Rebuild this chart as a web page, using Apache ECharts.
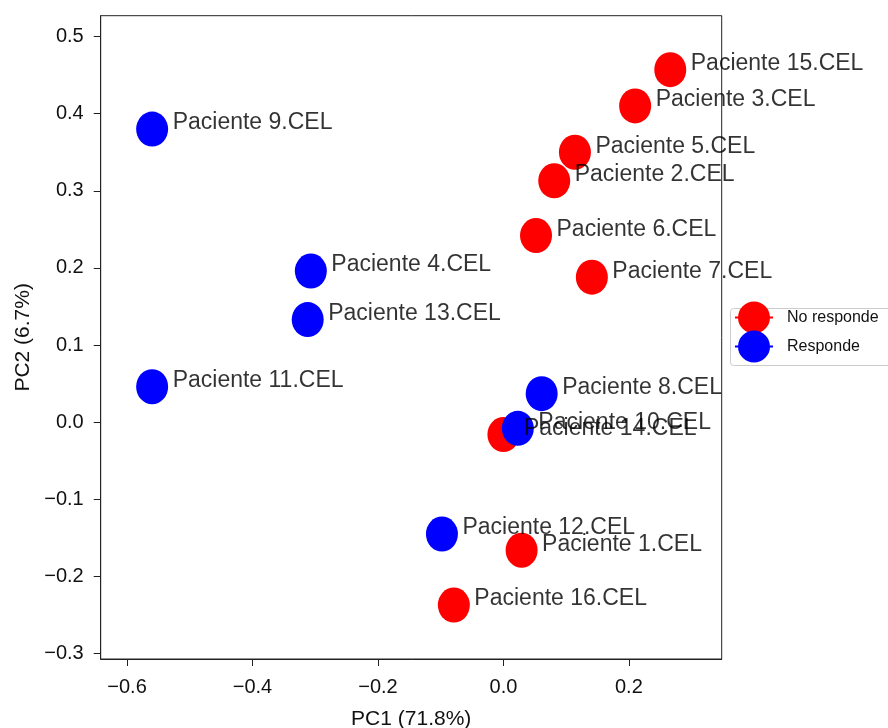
<!DOCTYPE html>
<html>
<head>
<meta charset="utf-8">
<script src="https://cdn.jsdelivr.net/npm/echarts@6/dist/echarts.min.js"></script>
<style>html,body{margin:0;padding:0;background:#fff}#c{width:888px;height:728px}</style>
</head>
<body>
<div id="c"></div>
<script>
const noRespondeNames = ['Paciente 15.CEL','Paciente 3.CEL','Paciente 5.CEL','Paciente 2.CEL','Paciente 6.CEL','Paciente 7.CEL','Paciente 14.CEL','Paciente 1.CEL','Paciente 16.CEL'];
const noRespondePC1 = [0.266, 0.210, 0.114, 0.081, 0.052, 0.141, 0.000, 0.029, -0.079];
const noRespondePC2 = [0.457, 0.410, 0.350, 0.313, 0.242, 0.188, -0.016, -0.166, -0.237];

const respondeNames = ['Paciente 9.CEL','Paciente 4.CEL','Paciente 13.CEL','Paciente 11.CEL','Paciente 8.CEL','Paciente 10.CEL','Paciente 12.CEL'];
const respondePC1 = [-0.560, -0.307, -0.312, -0.560, 0.061, 0.023, -0.098];
const respondePC2 = [0.380, 0.196, 0.133, 0.046, 0.037, -0.008, -0.145];

const xTicks = [-0.6, -0.4, -0.2, 0.0, 0.2];
const yTicks = [-0.3, -0.2, -0.1, 0.0, 0.1, 0.2, 0.3, 0.4, 0.5];
const xName = 'PC1 (71.8%)';
const yName = 'PC2 (6.7%)';
const seriesNames = ['No responde', 'Responde'];

const FONT = "'Liberation Sans', Arial, sans-serif";
const fmt = v => (v < 0 ? '\u2212' : '') + Math.abs(v).toFixed(1);
const toPts = (xs, ys, names) => xs.map((x, i) => ({ value: [x, ys[i]], name: names[i] }));

const redPts = toPts(noRespondePC1, noRespondePC2, noRespondeNames);
const bluePts = toPts(respondePC1, respondePC2, respondeNames);

const iconPath = 'path://M0 15.5 H38 V17.5 H0 Z M3 16.5 A16 16 0 1 1 35 16.5 A16 16 0 1 1 3 16.5 Z';

const chart = echarts.init(document.getElementById('c'), null, { renderer: 'canvas' });
chart.setOption({
  animation: false,
  backgroundColor: '#fff',
  textStyle: { fontFamily: FONT },
  grid: { left: 100.7, right: 166.3, top: 15.7, bottom: 69, show: true, borderColor: '#222', borderWidth: 1, containLabel: false, outerBoundsMode: 'none' },
  xAxis: {
    type: 'value', min: -0.642, max: 0.348,
    name: xName, nameLocation: 'middle', nameGap: 50,
    nameTextStyle: { fontSize: 21, color: '#111', fontFamily: FONT },
    axisLine: { show: true, onZero: false, lineStyle: { color: '#222', width: 1 } },
    axisTick: { show: true, inside: false, length: 7, customValues: xTicks, lineStyle: { color: '#222' } },
    axisLabel: { customValues: xTicks, formatter: fmt, fontSize: 20, color: '#111', margin: 18, fontFamily: FONT },
    splitLine: { show: false }
  },
  yAxis: {
    type: 'value', min: -0.307, max: 0.527,
    name: yName, nameLocation: 'middle', nameGap: 67,
    nameTextStyle: { fontSize: 21, color: '#111', fontFamily: FONT },
    axisLine: { show: true, onZero: false, lineStyle: { color: '#222', width: 1 } },
    axisTick: { show: true, inside: false, length: 7, customValues: yTicks, lineStyle: { color: '#222' } },
    axisLabel: { customValues: yTicks, formatter: fmt, fontSize: 20, color: '#111', margin: 17, fontFamily: FONT },
    splitLine: { show: false }
  },
  legend: {
    orient: 'vertical', left: 735, top: 301.5, padding: 0,
    itemWidth: 38, itemHeight: 33, itemGap: -3,
    data: [
      { name: seriesNames[0], icon: iconPath, itemStyle: { color: '#ff0000' } },
      { name: seriesNames[1], icon: iconPath, itemStyle: { color: '#0000ff' } }
    ],
    textStyle: { fontSize: 16, color: '#111', fontFamily: FONT, padding: [8, 0, 0, 9] },
    selectedMode: false
  },
  graphic: [{
    type: 'rect', left: 730, top: 308, z: -1,
    shape: { width: 170, height: 57, r: 3 },
    style: { fill: '#fff', stroke: '#ccc', lineWidth: 1 }
  }],
  series: [
    {
      name: seriesNames[0], type: 'scatter', data: redPts,
      symbol: 'circle', symbolSize: [32, 35],
      itemStyle: { color: '#ff0000', opacity: 1 }, z: 2
    },
    {
      name: seriesNames[1], type: 'scatter', data: bluePts,
      symbol: 'circle', symbolSize: [32, 35],
      itemStyle: { color: '#0000ff', opacity: 1 }, z: 3
    },
    {
      name: 'labels', type: 'scatter', data: redPts.concat(bluePts),
      symbol: 'circle', symbolSize: 1, silent: true,
      itemStyle: { color: 'rgba(0,0,0,0)' }, z: 5,
      label: { show: true, position: 'right', distance: 20, offset: [0, -6], formatter: p => p.name, fontSize: 23, color: '#000', fontFamily: FONT }
    }
  ]
});
</script>
</body>
</html>
